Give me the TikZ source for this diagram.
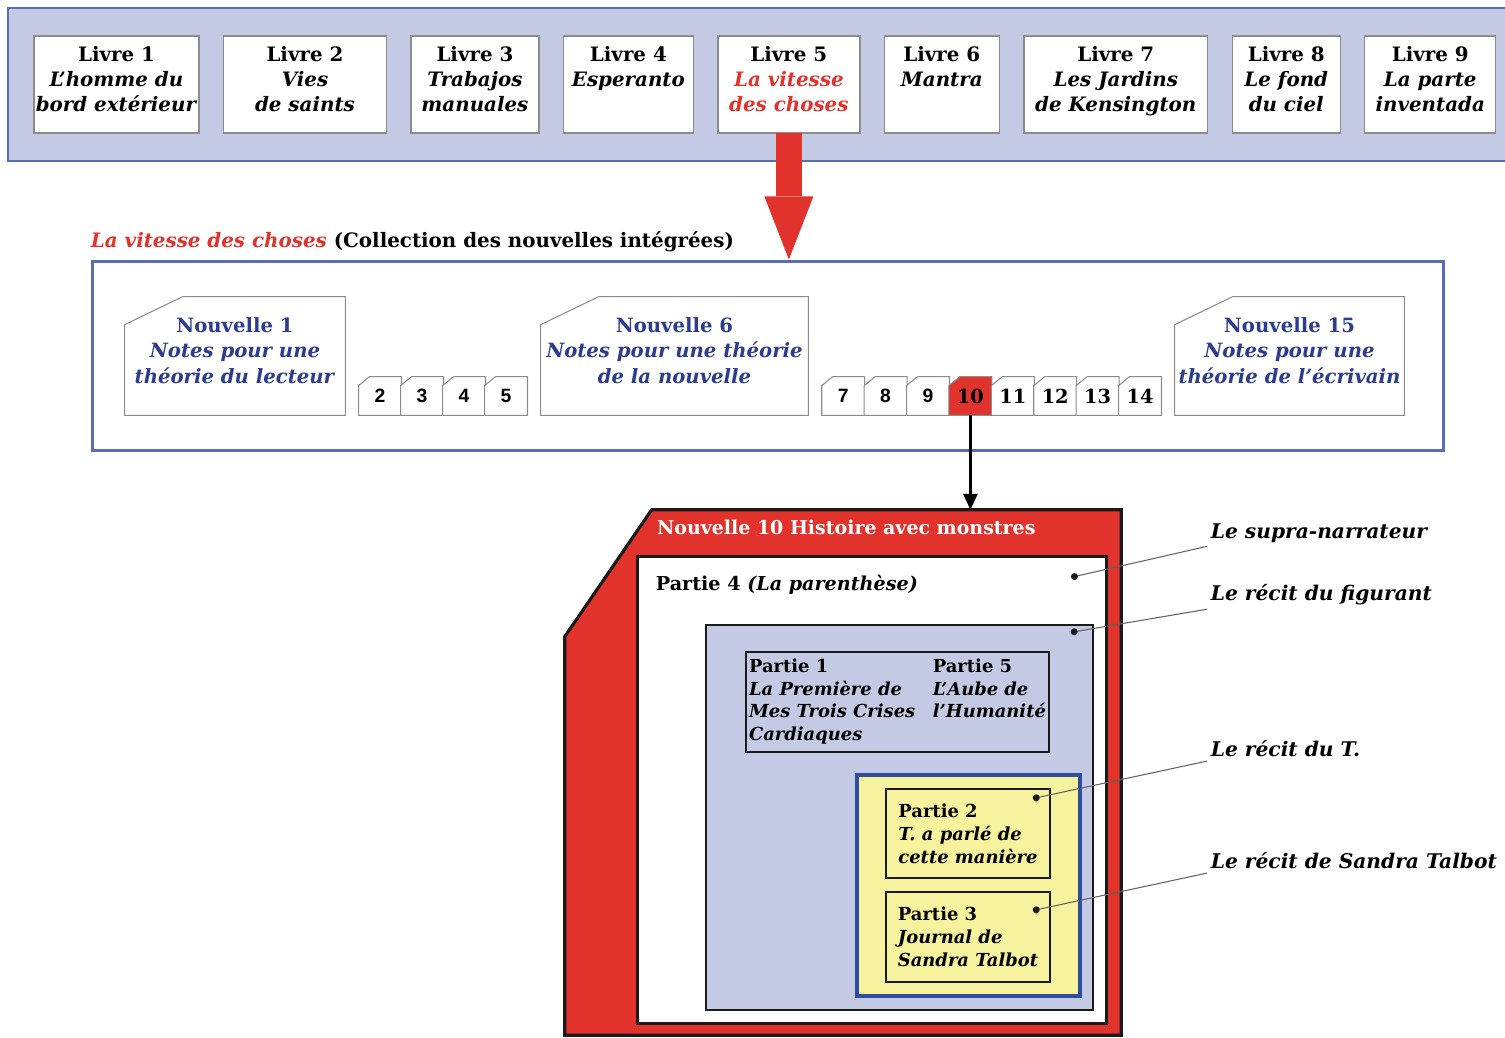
\documentclass[tikz,border=0pt]{standalone}
\usepackage{fontspec}
\setmainfont{DejaVu Serif}
\setsansfont{Liberation Sans}
\usetikzlibrary{positioning,calc,arrows.meta}

\definecolor{bande}{HTML}{C4CAE3}
\definecolor{bandebord}{HTML}{5A6CB3}
\definecolor{rouge}{HTML}{E1322B}
\definecolor{bleutexte}{HTML}{2C3D8F}
\definecolor{jaune}{HTML}{F7F29E}
\definecolor{jaunebord}{HTML}{2E4CA0}
\definecolor{gris}{HTML}{8C8C8C}
\definecolor{noir}{HTML}{1A1A1A}

\pgfdeclarelayer{background}
\pgfsetlayers{background,main}

\tikzstyle{livre} = [draw=gris, fill=white, line width=0.8pt, align=center, outer sep=0pt,
    font=\fontsize{11.3}{14.2}\selectfont\bfseries, minimum height=1.94cm, inner sep=0pt,
    execute at end node={\rule[-6.5pt]{0pt}{0pt}}]
\tikzstyle{nouvelle} = [align=center, text=bleutexte, inner sep=0pt,
    font=\fontsize{11.2}{14.4}\selectfont\bfseries, minimum height=2.36cm,
    execute at end node={\rule[-6.5pt]{0pt}{0pt}}]
\tikzstyle{onglet} = [minimum width=0.845cm, minimum height=0.76cm, inner sep=0pt,
    font=\fontsize{11}{13}\selectfont\bfseries]
\tikzstyle{boite} = [draw=noir, line width=1.7pt, inner sep=0pt]
\tikzstyle{partie} = [draw=noir, line width=1.4pt, align=left, inner sep=0pt,
    font=\fontsize{10.2}{13}\selectfont\bfseries]
\tikzstyle{renvoi} = [anchor=west, inner sep=2pt,
    font=\fontsize{11.5}{13}\selectfont\bfseries\itshape]
\tikzstyle{renvoiligne} = [draw=gris!70!black, line width=0.6pt]
\def\gap{0.49cm}

\begin{document}
\begin{tikzpicture}[x=0.02cm, y=-0.02cm, font=\bfseries]
    \useasboundingbox (0,0) rectangle (1505,1038);

    % les neuf livres
    \node (l1) [livre, minimum width=3.3cm] at (116.5,84.5) {Livre 1\\ \textit{L'homme du}\\ \textit{bord extérieur}};
    \node (l2) [livre, minimum width=3.26cm, right=\gap of l1] {Livre 2\\ \textit{Vies}\\ \textit{de saints}};
    \node (l3) [livre, minimum width=2.56cm, right=\gap of l2] {Livre 3\\ \textit{Trabajos}\\ \textit{manuales}};
    \node (l4) [livre, minimum width=2.6cm, right=\gap of l3] {Livre 4\\ \textit{Esperanto}\\ ~};
    \node (l5) [livre, minimum width=2.84cm, right=\gap of l4] {Livre 5\\ \textcolor{rouge}{\textit{La vitesse}}\\ \textcolor{rouge}{\textit{des choses}}};
    \node (l6) [livre, minimum width=2.3cm, right=\gap of l5] {Livre 6\\ \textit{Mantra}\\ ~};
    \node (l7) [livre, minimum width=3.68cm, right=\gap of l6] {Livre 7\\ \textit{Les Jardins}\\ \textit{de Kensington}};
    \node (l8) [livre, minimum width=2.16cm, right=\gap of l7] {Livre 8\\ \textit{Le fond}\\ \textit{du ciel}};
    \node (l9) [livre, minimum width=2.62cm, right=\gap of l8] {Livre 9\\ \textit{La parte}\\ \textit{inventada}};

    % le recueil
    \node (recueil) [draw=bandebord, line width=1.7pt, minimum width=27.04cm, minimum height=3.8cm, inner sep=0pt] at (768,356) {};
    \path (recueil.north west)+(0,-18) node [anchor=west, inner sep=0pt, font=\fontsize{11.3}{13}\selectfont\bfseries] (titre)
        {\textcolor{rouge}{\textit{La vitesse des choses}} (Collection des nouvelles intégrées)};

    \draw [line width=14.7pt, draw=rouge, -{Triangle[width=28pt, length=36pt, line width=0pt]}] (l5.south) -- (l5.south |- recueil.north);

    \node (nv1) [nouvelle, minimum width=4.4cm] at (235,356) {Nouvelle 1\\ \textit{Notes pour une}\\ \textit{théorie du lecteur}};
    \node (nv6) [nouvelle, minimum width=5.34cm] at (674.5,356) {Nouvelle 6\\ \textit{Notes pour une théorie}\\ \textit{de la nouvelle}};
    \node (nv15) [nouvelle, minimum width=4.58cm] at (1289.5,356) {Nouvelle 15\\ \textit{Notes pour une}\\ \textit{théorie de l'écrivain}};

    \foreach \i [count=\k from 0] in {2,...,5}
        \node (t\i) [onglet] at (380+42*\k,396) {\sffamily\i};
    \foreach \i [count=\k from 0] in {7,...,14}
        \node (t\i) [onglet] at (843.2+42.4*\k,396) {\ifnum\i<10 \sffamily\fi\i};

    % la nouvelle 10
    \node (histoire) [minimum width=11.12cm, minimum height=10.5cm, inner sep=0pt] at (843,772.5) {};
    \path (histoire.north west)+(92,18) node [anchor=west, inner sep=0pt, text=white, font=\fontsize{10.8}{13}\selectfont\bfseries] (titre10)
        {Nouvelle 10 Histoire avec monstres};
    \draw [line width=1.4pt, -{Triangle[width=8pt, length=9pt]}] (t10.south) -- (t10.south |- histoire.north);

    \node (p4) [boite, fill=white, minimum width=9.4cm, minimum height=9.36cm] at (872,790) {};
    \path (p4.north west)+(20,30) node [anchor=west, inner sep=0pt, font=\fontsize{10.9}{13}\selectfont\bfseries] (p4txt)
        {Partie 4 \textit{(La parenthèse)}};
    \node (figurant) [boite, fill=bande, line width=1.4pt, minimum width=7.74cm, minimum height=7.7cm] at (899.5,817.5) {};
    \node (p15) [partie, minimum width=6.06cm, minimum height=2cm] at (897.5,702)
        {\begin{tabular}{@{}l@{\hspace{10pt}}l@{}}
            Partie 1 & Partie 5\\
            \textit{La Première de} & \textit{L'Aube de}\\
            \textit{Mes Trois Crises} & \textit{l'Humanité}\\
            \textit{Cardiaques} & \\
        \end{tabular}};
    \node (jaune) [draw=jaunebord, fill=jaune, line width=1.8pt, minimum width=4.46cm, minimum height=4.42cm, inner sep=0pt] at (968.5,885.5) {};
    \node (p2) [partie, minimum width=3.28cm, minimum height=1.78cm] at (968,833.5) {Partie 2\\ \textit{T. a parlé de}\\ \textit{cette manière}};
    \node (p3) [partie, minimum width=3.28cm, minimum height=1.8cm] at (968,937) {Partie 3\\ \textit{Journal de}\\ \textit{Sandra Talbot}};

    % les niveaux de recit
    \coordinate (d1) at ($(p4.north east)+(-34,22)$);
    \coordinate (d2) at ($(figurant.north east)+(-20,8)$);
    \coordinate (d3) at ($(p2.north east)+(-15,10)$);
    \coordinate (d4) at ($(p3.north east)+(-15,19)$);
    \node (r1) [renvoi] at (1207,533) {Le supra-narrateur};
    \node (r2) [renvoi] at (1207,595) {Le récit du figurant};
    \node (r3) [renvoi] at (1207,749) {Le récit du T.};
    \node (r4) [renvoi] at (1207,861) {Le récit de Sandra Talbot};
    \foreach \point/\etiq in {d1/r1, d2/r2, d3/r3, d4/r4} {
        \path [renvoiligne] (\point) -- (\etiq.south west);
        \fill [noir] (\point) circle (2pt);
    }

    \begin{pgfonlayer}{background}
        % bande des livres
        \path [fill=bande, draw=bandebord, line width=1.7pt] (8,8) rectangle (1515,161);
        % coins coupes
        \foreach \n/\cx/\cy/\col in {nv1/58/28/white, nv6/58/28/white, nv15/58/28/white,
                t2/11/9/white, t3/11/9/white, t4/11/9/white, t5/11/9/white,
                t7/11/9/white, t8/11/9/white, t9/11/9/white, t10/11/9/rouge,
                t11/11/9/white, t12/11/9/white, t13/11/9/white, t14/11/9/white}
            \path [draw=gris, fill=\col, line width=0.6pt] (\n.south west) -- ($(\n.north west)+(0,\cy)$)
                -- ($(\n.north west)+(\cx,0)$) -- (\n.north east) -- (\n.south east) -- cycle;
        \path [draw=noir, fill=rouge, line width=1.8pt] (histoire.south west) -- ($(histoire.north west)+(0,127)$)
            -- ($(histoire.north west)+(87,0)$) -- (histoire.north east) -- (histoire.south east) -- cycle;
    \end{pgfonlayer}
\end{tikzpicture}
\end{document}
